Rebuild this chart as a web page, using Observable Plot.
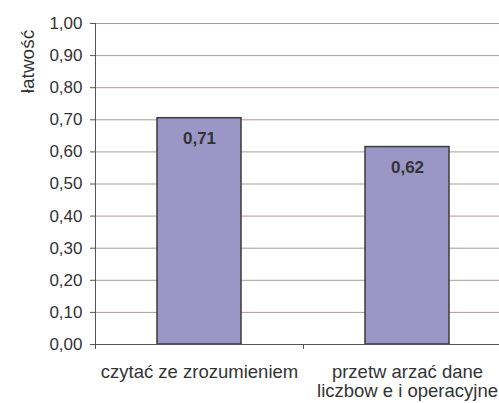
<!DOCTYPE html>
<html><head><meta charset="utf-8">
<script src="https://cdn.jsdelivr.net/npm/d3@7"></script>
<script src="https://cdn.jsdelivr.net/npm/@observablehq/plot@0.6"></script>
<style>
body{margin:0;background:#fff}
svg{font-family:"Liberation Sans",Arial,sans-serif}
</style>
</head><body><div id="chart"></div>
<script>
const categories = ["czytać ze zrozumieniem", "przetw arzać dane\nliczbow e i operacyjne"];
const values = [0.705, 0.615];
const valueLabels = ["0,71", "0,62"];
const yTicks = [0, 0.1, 0.2, 0.3, 0.4, 0.5, 0.6, 0.7, 0.8, 0.9, 1.0];
const yTitle = "łatwość";

const data = categories.map((c, i) => ({i, cat: c, value: values[i], label: valueLabels[i]}));
const fmt = d => d.toFixed(2).replace(".", ",");

const chart = Plot.plot({
  width: 499,
  height: 403,
  marginLeft: 95,
  marginTop: 23,
  marginBottom: 59,
  marginRight: 0,
  style: {fontFamily: '"Liberation Sans",Arial,sans-serif', fontSize: "17px", color: "#333", background: "#fff", overflow: "visible"},
  x: {domain: [0, 2], range: [95, 511], axis: null},
  y: {domain: [0, 1], axis: null},
  marks: [
    Plot.gridY(yTicks.slice(1), {stroke: "#a99b9b", strokeOpacity: 1}),
    Plot.rectY(data, {x1: "i", x2: d => d.i + 1, y: "value", insetLeft: 62, insetRight: 62, fill: "#9c96c7", stroke: "#3a3a3a", strokeWidth: 1.5}),
    Plot.text(data, {x: d => d.i + 0.5, y: "value", text: "label", dy: 20, fontWeight: "bold", fontSize: 17, fill: "#333"}),
    Plot.axisY(yTicks, {tickSize: 5, tickPadding: 8, tickFormat: fmt, stroke: "#555", fill: "#333", fontSize: 17, label: null}),
    Plot.ruleX([0], {stroke: "#555"}),
    Plot.ruleY([0], {stroke: "#555"}),
    Plot.axisX([0, 1, 2], {tickSize: 5, tickFormat: () => "", stroke: "#555", label: null}),
    Plot.text(data, {x: d => d.i + 0.5, text: "cat", frameAnchor: "bottom", lineAnchor: "top", dy: 20, lineHeight: 1.03, fontSize: 18.5, fill: "#333"}),
    Plot.text([yTitle], {text: d => d, frameAnchor: "top-left", rotate: -90, dx: -75, dy: 38, textAnchor: "middle", fontSize: 19, fill: "#333"})
  ]
});
document.getElementById("chart").appendChild(chart);
</script>
</body></html>
